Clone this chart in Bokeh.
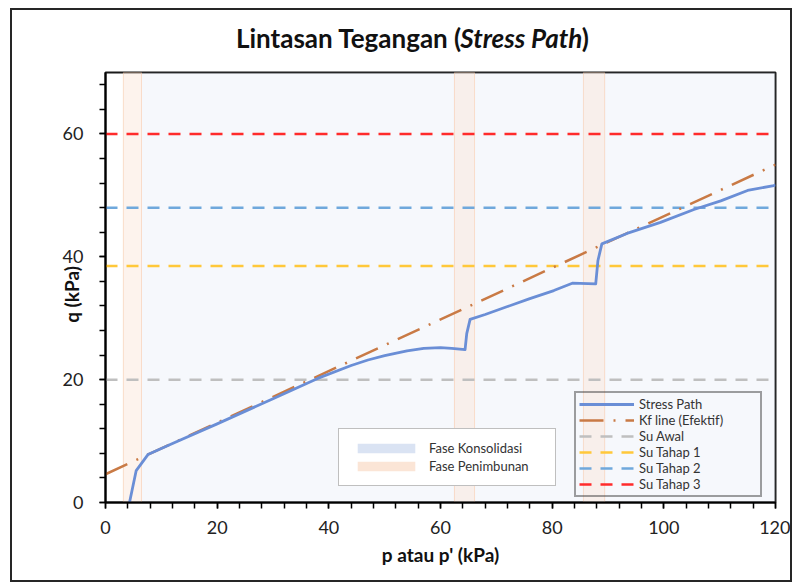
from bokeh.plotting import figure
from bokeh.models import Range1d, SingleIntervalTicker, Legend, LegendItem
from bokeh.layouts import column
from bokeh.core.properties import value
from bokeh.embed import file_html
from bokeh.resources import INLINE

# ---------------- data ----------------
x_min, x_max = 0, 120
y_min, y_max = 0, 70

# phases
konsolidasi_start = [6.45]
konsolidasi_end = [120]
penimbunan_start = [3.2, 62.5, 85.6]
penimbunan_end = [6.45, 66.1, 89.4]

# stress path
sp_p = [4.3, 5.5, 7.6, 12, 20, 30, 38, 44, 47, 50, 54, 57, 60, 62, 64.4, 64.7, 65.3,
        68, 72, 76, 80.3, 83.6, 87.8, 88.2, 88.9, 93.4, 99.4, 105.4, 110.2, 115, 119.7, 120]
sp_q = [0.0, 5.2, 7.8, 9.6, 12.8, 16.9, 20.2, 22.3, 23.2, 23.9, 24.7, 25.1, 25.2, 25.1, 24.9, 27.5, 29.8,
        30.6, 31.9, 33.2, 34.5, 35.7, 35.6, 39.4, 42.1, 43.8, 45.6, 47.7, 49.1, 50.8, 51.6, 51.7]

# Kf line (effective)
kf_p = [0, 120]
kf_q = [4.6, 55.0]

# undrained strengths
su_names = ["Su Awal", "Su Tahap 1", "Su Tahap 2", "Su Tahap 3"]
su_values = [20.0, 38.5, 48.0, 60.0]
su_colors = ["#BFBFBF", "#FFC83A", "#6FA8DC", "#FF2B2B"]

title_parts = ["Lintasan Tegangan (", "Stress Path", ")"]

x_ticks_interval = 20
y_ticks_interval = 20

FONT = "Lato"
W = 778

# ---------------- title strip ----------------
tf = figure(width=W, height=50, x_range=Range1d(0, W), y_range=Range1d(0, 50),
            title=None, output_backend="svg", toolbar_location=None,
            x_axis_type=None, y_axis_type=None,
            min_border_left=0, min_border_right=0, min_border_top=0, min_border_bottom=0,
            background_fill_color="white", border_fill_color="white")
tf.outline_line_color = None
tf.xgrid.visible = False
tf.ygrid.visible = False
tx = [414, 412, 553]
ty = [22.5, 22.5, 22.5]
aligns = ["right", "left", "left"]
styles = ["bold", "bold italic", "bold"]
for t, x, y, a, s in zip(title_parts, tx, ty, aligns, styles):
    tf.text(x=[x], y=[y], text=[t], text_font=value(FONT), text_font_style=value(s),
            text_font_size=value("26px"), text_color="#111111",
            text_align=value(a), text_baseline=value("alphabetic"))

# ---------------- main plot ----------------
p = figure(frame_width=670, frame_height=430,
           x_range=Range1d(x_min, x_max), y_range=Range1d(y_min, y_max),
           output_backend="svg", toolbar_location=None,
           min_border_left=93, min_border_right=15, min_border_top=12, min_border_bottom=78,
           background_fill_color="white", border_fill_color="white")

p.xgrid.visible = False
p.ygrid.visible = False
p.outline_line_color = "#1A1A1A"
p.outline_line_width = 2

# phase backgrounds
p.quad(left=konsolidasi_start, right=konsolidasi_end, bottom=y_min, top=y_max,
       fill_color="#DAE3F3", fill_alpha=0.25, line_alpha=0)
p.quad(left=penimbunan_start, right=penimbunan_end, bottom=y_min, top=y_max,
       fill_color="#FBE5D6", fill_alpha=0.45, line_color="#F8CBAD", line_alpha=0.6, line_width=1)

# legend-only swatches (outside visible range)
r_kons = p.quad(left=[-50], right=[-40], bottom=[-50], top=[-40], fill_color="#DAE3F3", line_alpha=0)
r_pen = p.quad(left=[-50], right=[-40], bottom=[-50], top=[-40], fill_color="#FBE5D6", line_alpha=0)

# Su lines
su_renderers = []
for name, v, c in zip(su_names, su_values, su_colors):
    r = p.line(x=[x_min, x_max], y=[v, v], line_color=c, line_width=2.5, line_dash="12 9")
    su_renderers.append(r)

# Kf line
r_kf = p.line(x=kf_p, y=kf_q, line_color="#C97A45", line_width=2.5, line_dash="24 10 2 10")

# stress path
r_sp = p.line(x=sp_p, y=sp_q, line_color="#6A8ED6", line_width=2.8, line_join="round")

# axes
for ax in (p.xaxis[0], p.yaxis[0]):
    ax.axis_line_color = "black"
    ax.axis_line_width = 2
    ax.major_tick_line_color = "black"
    ax.minor_tick_line_color = "black"
    ax.major_tick_line_width = 1.5
    ax.minor_tick_line_width = 1.5
    ax.major_tick_out = 6
    ax.major_tick_in = 0
    ax.minor_tick_out = 6
    ax.minor_tick_in = 0
    ax.major_label_text_font = FONT
    ax.major_label_text_font_size = "18px"
    ax.major_label_text_color = "#222222"
    ax.axis_label_text_font = FONT
    ax.axis_label_text_font_style = "bold"
    ax.axis_label_text_color = "#111111"

p.xaxis.ticker = SingleIntervalTicker(interval=x_ticks_interval, num_minor_ticks=5)
p.yaxis.ticker = SingleIntervalTicker(interval=y_ticks_interval, num_minor_ticks=5)
p.xaxis.major_label_standoff = 12
p.yaxis.major_label_standoff = 16

p.xaxis.axis_label = "p atau p' (kPa)"
p.xaxis.axis_label_text_font_size = "19px"
p.xaxis.axis_label_standoff = 6
# trailing no-break spaces nudge the rotated label down, as in the reference
p.yaxis.axis_label = "q (kPa)\u00a0\u00a0\u00a0"
p.yaxis.axis_label_text_font_size = "19px"
p.yaxis.axis_label_standoff = -23

# legend 1: lines
items1 = [LegendItem(label="Stress Path", renderers=[r_sp]),
          LegendItem(label="Kf line (Efektif)", renderers=[r_kf])]
for name, r in zip(su_names, su_renderers):
    items1.append(LegendItem(label=name, renderers=[r]))
leg1 = Legend(items=items1, location=(469, 5), orientation="vertical",
              border_line_color="#404040", border_line_width=2,
              background_fill_alpha=0,
              label_text_font=FONT, label_text_font_size="13px", label_text_color="#333333",
              glyph_width=55, glyph_height=14, label_height=14, spacing=0,
              padding=3, margin=0, label_standoff=5, label_width=118)
p.add_layout(leg1, "center")

# legend 2: phases
items2 = [LegendItem(label="Fase Konsolidasi", renderers=[r_kons]),
          LegendItem(label="Fase Penimbunan", renderers=[r_pen])]
leg2 = Legend(items=items2, location=(233, 16), orientation="vertical",
              border_line_color="#7F7F7F", border_line_width=1.5,
              background_fill_color="white", background_fill_alpha=1,
              label_text_font=FONT, label_text_font_size="13px", label_text_color="#333333",
              glyph_width=72, glyph_height=12, label_height=14, spacing=2,
              padding=11, margin=0, label_standoff=7, label_width=115)
p.add_layout(leg2, "center")

layout = column(tf, p, spacing=0)
layout.margin = (8, 0, 0, 10)
layout.styles = {"border": "2px solid #262626", "background-color": "white"}

open("out.html", "w").write(file_html(layout, INLINE))
